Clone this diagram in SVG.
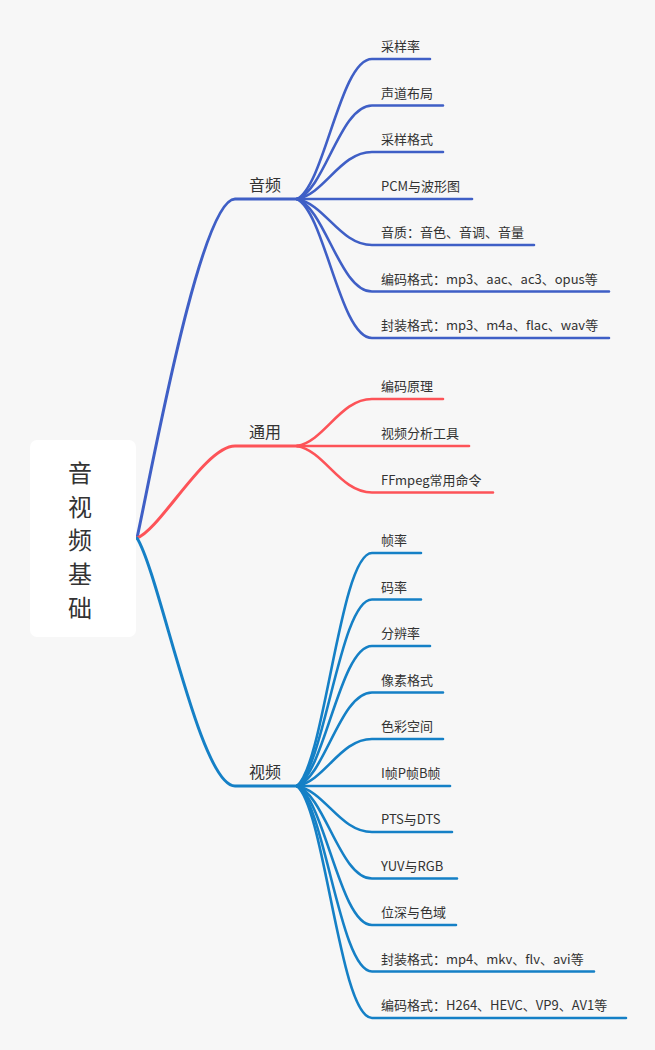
<svg xmlns="http://www.w3.org/2000/svg" width="655" height="1050" viewBox="0 0 655 1050">
<style>
text{font-family:"Noto Sans CJK SC","Noto Sans",sans-serif;fill:#333}
.root{font-size:24px;text-anchor:middle}
.l2{font-size:16px}
.leaf{font-size:13px}
.c{fill:none;stroke-linecap:round}
.main{stroke-width:3}
.sub{stroke-width:2.6}
.a{stroke:#3f5fc6}
.g{stroke:#fd5358}
.v{stroke:#1580c6}
</style>
<rect width="655" height="1050" fill="#f7f7f7"/>
<g id="connectors">
<path class="c main a" d="M137 538 C150 480 200 199 235 199 L300 199"/>
<path class="c main g" d="M137 538 C160 530 205 446 235 446 L300 446"/>
<path class="c main v" d="M137 538 C160 575 200 786 235 786 L300 786"/>
<path class="c sub a" d="M297 199 C325 185 340 59 372 59 L430 59"/>
<path class="c sub a" d="M297 199 C325 190 340 105.5 372 105.5 L443 105.5"/>
<path class="c sub a" d="M297 199 C325 194 340 152 372 152 L443 152"/>
<path class="c sub a" d="M297 199 L472 199"/>
<path class="c sub a" d="M297 199 C325 204 340 245 372 245 L534 245"/>
<path class="c sub a" d="M297 199 C325 208 340 291.5 372 291.5 L609 291.5"/>
<path class="c sub a" d="M297 199 C325 213 340 338 372 338 L609 338"/>
<path class="c sub g" d="M297 446 C325 441 340 399 372 399 L443 399"/>
<path class="c sub g" d="M297 446 L469 446"/>
<path class="c sub g" d="M297 446 C325 451 340 492.5 372 492.5 L493 492.5"/>
<path class="c sub v" d="M297 786 C325 763 340 553 372 553 L421 553"/>
<path class="c sub v" d="M297 786 C325 767 340 599.5 372 599.5 L421 599.5"/>
<path class="c sub v" d="M297 786 C325 772 340 646 372 646 L430 646"/>
<path class="c sub v" d="M297 786 C325 777 340 692.5 372 692.5 L443 692.5"/>
<path class="c sub v" d="M297 786 C325 781 340 739 372 739 L443 739"/>
<path class="c sub v" d="M297 786 L450 786"/>
<path class="c sub v" d="M297 786 C325 791 340 832 372 832 L452 832"/>
<path class="c sub v" d="M297 786 C325 795 340 878.5 372 878.5 L457 878.5"/>
<path class="c sub v" d="M297 786 C325 800 340 925 372 925 L456 925"/>
<path class="c sub v" d="M297 786 C325 805 340 971.5 372 971.5 L594 971.5"/>
<path class="c sub v" d="M297 786 C325 809 340 1018 372 1018 L626 1018"/>
</g>
<g id="root">
<rect x="30" y="440" width="106" height="197" rx="7" fill="#fff"/>
<text class="root" x="80" y="482">音</text>
<text class="root" x="80" y="515.7">视</text>
<text class="root" x="80" y="549.4">频</text>
<text class="root" x="80" y="583">基</text>
<text class="root" x="80" y="616.8">础</text>
</g>
<g id="audio"><text class="l2" x="249" y="191">音频</text></g>
<g id="general"><text class="l2" x="249" y="438">通用</text></g>
<g id="video"><text class="l2" x="249" y="778">视频</text></g>
<g id="audio-leaves">
<g id="a1"><text class="leaf" x="381" y="51">采样率</text></g>
<g id="a2"><text class="leaf" x="381" y="97.5">声道布局</text></g>
<g id="a3"><text class="leaf" x="381" y="144">采样格式</text></g>
<g id="a4"><text class="leaf" x="381" y="190.5">PCM与波形图</text></g>
<g id="a5"><text class="leaf" x="381" y="237">音质：音色、音调、音量</text></g>
<g id="a6"><text class="leaf" x="381" y="283.5">编码格式：mp3、aac、ac3、opus等</text></g>
<g id="a7"><text class="leaf" x="381" y="330">封装格式：mp3、m4a、flac、wav等</text></g>
</g>
<g id="general-leaves">
<g id="g1"><text class="leaf" x="381" y="391">编码原理</text></g>
<g id="g2"><text class="leaf" x="381" y="438">视频分析工具</text></g>
<g id="g3"><text class="leaf" x="381" y="484.5">FFmpeg常用命令</text></g>
</g>
<g id="video-leaves">
<g id="v1"><text class="leaf" x="381" y="545">帧率</text></g>
<g id="v2"><text class="leaf" x="381" y="591.5">码率</text></g>
<g id="v3"><text class="leaf" x="381" y="638">分辨率</text></g>
<g id="v4"><text class="leaf" x="381" y="684.5">像素格式</text></g>
<g id="v5"><text class="leaf" x="381" y="731">色彩空间</text></g>
<g id="v6"><text class="leaf" x="381" y="778">I帧P帧B帧</text></g>
<g id="v7"><text class="leaf" x="381" y="824">PTS与DTS</text></g>
<g id="v8"><text class="leaf" x="381" y="870.5">YUV与RGB</text></g>
<g id="v9"><text class="leaf" x="381" y="917">位深与色域</text></g>
<g id="v10"><text class="leaf" x="381" y="963.5">封装格式：mp4、mkv、flv、avi等</text></g>
<g id="v11"><text class="leaf" x="381" y="1010">编码格式：H264、HEVC、VP9、AV1等</text></g>
</g>
</svg>
